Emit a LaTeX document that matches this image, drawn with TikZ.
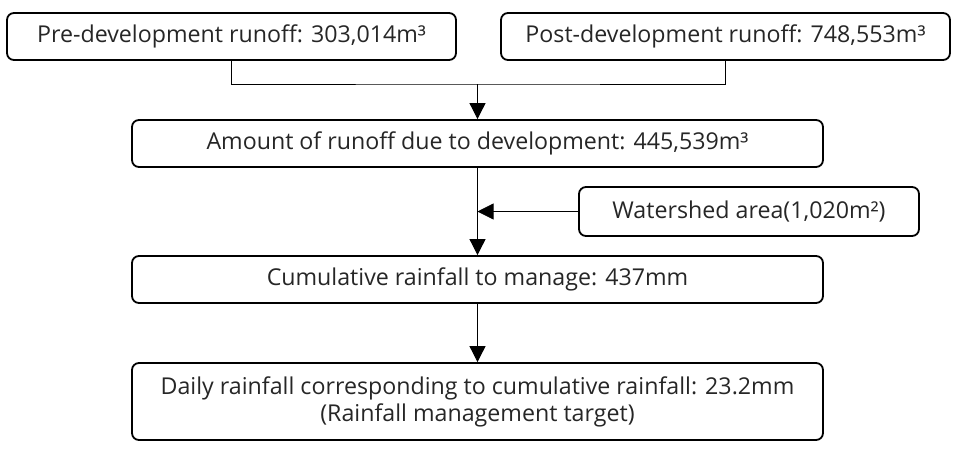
\documentclass[tikz,border=0pt]{standalone}
\usepackage{fontspec}
\setmainfont{Open Sans}
\usetikzlibrary{positioning}
\usetikzlibrary{arrows.meta}
\tikzset{box/.style={draw,line width=1.8pt,rounded corners=7pt,align=center,inner sep=0pt,font=\fontsize{23.2}{27}\selectfont,text=black!85},
	flow/.style={line width=0.8pt,-{Triangle[width=16pt,length=16pt]}}}

\begin{document}
\begin{tikzpicture}[x=1pt,y=-1pt]
	\useasboundingbox (0,0) rectangle (960,450);
	\node[box,minimum width=449pt,minimum height=47pt] at (231.5,36.5) (pre) {Pre-development runoff: 303,014m³};
	\node[box,minimum width=449pt,minimum height=47pt] at (725.5,36.5) (post) {Post-development runoff: 748,553m³};
	\node[box,minimum width=691pt,minimum height=47pt] at (477.5,143.5) (amount) {Amount of runoff due to development: 445,539m³};
	\node[box,minimum width=340pt,minimum height=49pt] at (749,211.5) (water) {Watershed area(1,020m²)};
	\node[box,minimum width=691pt,minimum height=47pt] at (477.5,279.5) (cumul) {Cumulative rainfall to manage: 437mm};
	\node[box,minimum width=691pt,minimum height=77pt] at (477.5,401.5) (daily) {Daily rainfall corresponding to cumulative rainfall: 23.2mm\\(Rainfall management target)};
	\coordinate (join) at (477.5,84);
	\coordinate (merge) at (water.west -| amount.south);
	\draw[line width=0.8pt] (pre.south) |- (join) -| (post.south);
	\draw[flow] (join) -- (amount);
	\draw[flow] (amount) -- (cumul);
	\draw[flow] (water) -- (merge);
	\draw[flow] (cumul) -- (daily);
\end{tikzpicture}
\end{document}
